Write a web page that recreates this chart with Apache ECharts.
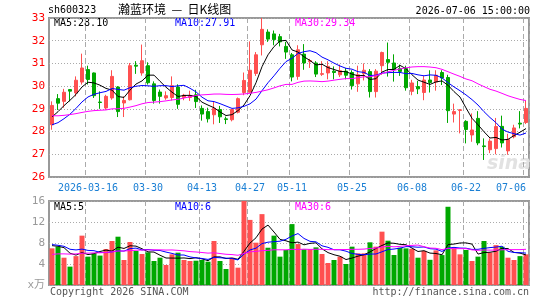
<!DOCTYPE html>
<html>
<head>
<meta charset="utf-8">
<script src="https://cdn.jsdelivr.net/npm/echarts@6/dist/echarts.min.js"></script>
<style>
  html, body { margin: 0; padding: 0; background: #fff; }
  #chart { width: 545px; height: 300px; }
</style>
</head>
<body>
<div id="chart"></div>
<script>
// trading days shown on the chart
var dates = [
  '2026-03-06','2026-03-09','2026-03-10','2026-03-11','2026-03-12','2026-03-13',
  '2026-03-16','2026-03-17','2026-03-18','2026-03-19','2026-03-20','2026-03-23','2026-03-24','2026-03-25','2026-03-26','2026-03-27',
  '2026-03-30','2026-03-31','2026-04-01','2026-04-02','2026-04-03','2026-04-07','2026-04-08','2026-04-09','2026-04-10',
  '2026-04-13','2026-04-14','2026-04-15','2026-04-16','2026-04-17','2026-04-20','2026-04-21','2026-04-22',
  '2026-04-27','2026-04-28','2026-04-29','2026-04-30','2026-05-06','2026-05-07','2026-05-08',
  '2026-05-11','2026-05-12','2026-05-13','2026-05-14','2026-05-15','2026-05-18','2026-05-19','2026-05-20','2026-05-21','2026-05-22',
  '2026-05-25','2026-05-26','2026-05-27','2026-05-28','2026-05-29','2026-06-01','2026-06-02','2026-06-03','2026-06-04','2026-06-05',
  '2026-06-08','2026-06-09','2026-06-10','2026-06-11','2026-06-12','2026-06-15','2026-06-16','2026-06-17','2026-06-18',
  '2026-06-22','2026-06-23','2026-06-24','2026-06-25','2026-06-26','2026-06-29','2026-06-30','2026-07-01','2026-07-02','2026-07-03',
  '2026-07-06'
];
var tickDates = ['2026-03-16','2026-03-30','2026-04-13','2026-04-27','2026-05-11','2026-05-25','2026-06-08','2026-06-22','2026-07-06'];

var opens = [
  28.30,29.45,29.33,29.85,29.70,30.18,30.73,30.58,29.30,29.04,
  29.48,29.96,29.26,29.40,30.92,30.58,30.90,30.10,29.74,29.48,
  29.50,29.96,29.50,29.50,29.62,29.02,28.88,28.74,28.97,28.56,
  28.52,28.85,29.72,29.73,30.56,31.82,32.38,32.30,32.18,31.75,
  31.38,30.43,31.41,31.08,31.02,30.52,30.58,30.66,30.50,30.66,
  30.60,30.10,30.55,30.64,29.76,30.90,31.17,31.02,30.78,30.78,
  29.77,29.98,29.72,30.27,30.18,30.60,30.38,28.77,28.93,28.45,
  27.85,28.58,27.37,27.20,27.25,28.23,27.15,27.77,28.37,28.40
];
var closes = [
  29.15,29.25,29.73,29.78,30.26,30.80,30.29,29.58,29.28,29.55,
  30.43,28.88,29.37,30.90,30.88,31.12,30.15,29.37,29.55,29.58,
  30.02,29.20,29.60,29.58,29.32,28.77,28.56,29.02,28.65,28.53,
  28.97,29.45,30.25,30.70,31.38,32.50,32.07,32.05,31.95,31.50,
  30.40,31.60,31.02,31.12,30.53,30.55,30.87,30.60,30.68,30.48,
  30.02,30.50,30.70,29.76,30.66,31.48,31.05,30.73,30.65,29.93,
  30.14,29.88,30.27,30.16,30.48,30.36,28.92,28.88,28.96,28.09,
  28.07,27.50,27.34,27.58,28.22,27.50,27.65,28.16,28.33,29.02
];
var lows = [
  28.08,28.95,29.05,29.33,29.55,30.07,30.07,29.48,29.00,28.96,
  29.40,28.64,28.64,29.37,30.54,30.46,30.07,29.23,29.23,29.40,
  29.37,29.00,29.38,29.35,29.04,28.48,28.40,28.32,28.38,28.33,
  28.45,28.80,29.60,29.72,30.45,31.35,31.95,31.80,31.75,31.20,
  30.21,30.28,30.72,30.80,30.40,30.45,30.30,30.30,30.40,30.30,
  29.85,29.75,30.25,29.50,29.50,30.50,30.42,30.20,30.45,29.80,
  29.60,29.65,29.38,29.72,29.80,30.05,28.38,28.40,27.92,27.48,
  27.55,27.40,26.75,27.05,27.00,27.30,26.98,27.70,28.14,28.33
];
var highs = [
  29.33,29.65,29.88,29.86,30.43,31.43,30.90,30.60,29.77,29.62,
  30.70,30.00,29.55,31.02,31.10,31.83,31.05,30.21,29.85,29.77,
  30.43,30.08,29.66,29.80,29.84,29.15,29.05,29.30,29.13,28.66,
  28.98,29.50,30.60,31.97,31.50,33.00,32.50,32.45,32.30,31.95,
  31.46,31.80,31.85,31.20,31.10,31.10,31.10,30.87,30.95,30.80,
  30.70,30.90,31.00,30.75,30.75,31.52,31.92,31.40,30.95,30.90,
  30.28,30.23,30.45,30.70,30.70,30.70,30.50,29.23,28.98,28.50,
  28.80,28.90,27.70,27.70,28.60,28.70,27.90,28.30,28.90,29.35
];
// volume, 万手
var volumes = [
  6.98,7.30,5.20,3.50,5.50,9.40,5.40,6.00,5.60,6.86,
  8.38,9.20,4.76,8.19,6.48,5.90,6.22,4.57,5.20,3.81,
  5.84,6.16,4.76,4.57,4.63,4.76,4.44,8.38,4.57,3.05,
  5.20,3.30,16.0,12.4,8.06,13.5,7.10,9.40,5.40,6.67,
  11.6,7.80,6.80,6.80,7.17,5.90,4.19,4.76,5.40,4.00,
  7.30,6.03,6.03,8.13,7.30,10.16,8.44,5.71,7.10,6.98,
  6.90,5.20,6.50,4.80,6.60,5.70,14.9,6.98,5.84,6.67,
  4.57,5.40,8.38,6.20,7.60,7.30,5.20,4.76,5.50,5.84
];
// days before the window, only used to start the moving averages
var prevCloses = [
  29.3,29.1,28.8,29.0,29.2,28.9,28.6,28.8,29.1,29.0,
  28.7,28.9,29.2,29.0,28.7,28.5,28.8,28.9,28.6,28.8,
  28.3,28.0,27.8,27.7,27.95,28.1,28.4,28.6,28.98
];
var prevVolumes = [
  4.5,5.2,4.8,4.3,5.6,4.9,4.4,5.1,5.3,4.6,
  4.2,5.0,5.5,4.7,4.8,5.2,4.4,5.3,5.0,5.2,
  8.6,7.2,9.1,6.8,7.8,7.9,6.5,8.8,7.3
];
var maNow = ['28.10', '27.91', '29.34'];
var volMaNow = ['5', '6', '6'];

var RED = '#ff5050', GREEN = '#00a800';
var MONO = "'DejaVu Sans Mono', 'Liberation Mono', 'Noto Sans CJK SC', monospace";

function calcMA(vals, prev, n) {
  var all = prev.concat(vals);
  var out = [];
  for (var i = 0; i < vals.length; i++) {
    var end = prev.length + i, s = 0;
    for (var j = 0; j < n; j++) s += all[end - j];
    out.push(+(s / n).toFixed(3));
  }
  return out;
}

var kData = opens.map(function (o, i) { return [o, closes[i], lows[i], highs[i]]; });
var volData = volumes.map(function (v, i) {
  return { value: v, itemStyle: { color: closes[i] >= opens[i] ? RED : GREEN } };
});

function isTick(index) { return tickDates.indexOf(dates[index]) >= 0; }

var dashed = { show: true, interval: function (i) { return isTick(i); },
  lineStyle: { color: '#aaa', type: [5, 3], width: 1 } };
var dotted = { show: true, lineStyle: { color: '#aaa', type: [1, 2], width: 1 } };

var chart = echarts.init(document.getElementById('chart'), null, { renderer: 'canvas' });
chart.setOption({
  animation: false,
  backgroundColor: '#fff',
  grid: [
    { left: 49, top: 18, width: 480, height: 159, show: true, borderColor: '#999', borderWidth: 2 },
    { left: 49, top: 201, width: 480, height: 84, show: true, borderColor: '#999', borderWidth: 2 }
  ],
  xAxis: [
    {
      type: 'category', gridIndex: 0, data: dates, boundaryGap: true,
      axisLine: { show: false }, axisTick: { show: false },
      splitLine: dashed,
      axisLabel: {
        interval: function (i) { return isTick(i); },
        formatter: function (v) { return v === tickDates[0] ? v : v.slice(5); },
        color: '#1a7fd4', fontFamily: MONO, fontSize: 10, margin: 6,
        alignMaxLabel: 'right'
      }
    },
    {
      type: 'category', gridIndex: 1, data: dates, boundaryGap: true,
      axisLine: { show: false }, axisTick: { show: false }, axisLabel: { show: false },
      splitLine: dashed
    }
  ],
  yAxis: [
    {
      type: 'value', gridIndex: 0, min: 26, max: 33, interval: 1,
      axisLine: { show: false }, axisTick: { show: false },
      splitLine: dotted,
      axisLabel: { color: '#ff0000', fontFamily: MONO, fontSize: 11, margin: 4 }
    },
    {
      type: 'value', gridIndex: 1, min: 0, max: 16, interval: 4,
      axisLine: { show: false }, axisTick: { show: false },
      splitLine: dotted,
      axisLabel: {
        color: '#999', fontFamily: MONO, fontSize: 11, margin: 4,
        formatter: function (v) { return v === 0 ? 'x万' : v; }
      }
    }
  ],
  series: [
    {
      type: 'candlestick', xAxisIndex: 0, yAxisIndex: 0, data: kData, barWidth: 4,
      itemStyle: { color: RED, color0: GREEN, borderColor: RED, borderColor0: GREEN, borderWidth: 1 }
    },
    { type: 'line', data: calcMA(closes, prevCloses, 5), showSymbol: false, lineStyle: { color: '#000', width: 1 } },
    { type: 'line', data: calcMA(closes, prevCloses, 10), showSymbol: false, lineStyle: { color: '#0000ff', width: 1 } },
    { type: 'line', data: calcMA(closes, prevCloses, 30), showSymbol: false, lineStyle: { color: '#ff00ff', width: 1 } },
    { type: 'bar', xAxisIndex: 1, yAxisIndex: 1, data: volData, barWidth: 5 },
    { type: 'line', xAxisIndex: 1, yAxisIndex: 1, data: calcMA(volumes, prevVolumes, 5), showSymbol: false, lineStyle: { color: '#000', width: 1 } },
    { type: 'line', xAxisIndex: 1, yAxisIndex: 1, data: calcMA(volumes, prevVolumes, 10), showSymbol: false, lineStyle: { color: '#0000ff', width: 1 } },
    { type: 'line', xAxisIndex: 1, yAxisIndex: 1, data: calcMA(volumes, prevVolumes, 30), showSymbol: false, lineStyle: { color: '#ff00ff', width: 1 } }
  ],
  graphic: [
    { type: 'text', left: 48, top: 5, style: { text: 'sh600323', font: '10px ' + MONO, fill: '#000' } },
    { type: 'text', left: 118, top: 3, style: { text: '瀚蓝环境  —  日K线图', font: "12px 'Noto Sans CJK SC'", fill: '#000' } },
    { type: 'text', right: 15, top: 6, style: { text: '2026-07-06 15:00:00', font: '10px ' + MONO, fill: '#000' } },
    { type: 'text', left: 54, top: 18, style: { text: 'MA5:' + maNow[0], font: '10px ' + MONO, fill: '#000' } },
    { type: 'text', left: 175, top: 18, style: { text: 'MA10:' + maNow[1], font: '10px ' + MONO, fill: '#0000ff' } },
    { type: 'text', left: 295, top: 18, style: { text: 'MA30:' + maNow[2], font: '10px ' + MONO, fill: '#ff00ff' } },
    { type: 'text', left: 54, top: 202, style: { text: 'MA5:' + volMaNow[0], font: '10px ' + MONO, fill: '#000' } },
    { type: 'text', left: 175, top: 202, style: { text: 'MA10:' + volMaNow[1], font: '10px ' + MONO, fill: '#0000ff' } },
    { type: 'text', left: 295, top: 202, style: { text: 'MA30:' + volMaNow[2], font: '10px ' + MONO, fill: '#ff00ff' } },
    { type: 'text', left: 487, top: 155, style: { text: 'sina', font: "italic bold 19px 'DejaVu Sans'", fill: '#e2e2e2' } },
    { type: 'text', left: 50, top: 287, style: { text: 'Copyright 2026 SINA.COM', font: '10px ' + MONO, fill: '#555' } },
    { type: 'text', right: 16, top: 287, style: { text: 'http://finance.sina.com.cn', font: '10px ' + MONO, fill: '#555' } }
  ]
});
</script>
</body>
</html>
